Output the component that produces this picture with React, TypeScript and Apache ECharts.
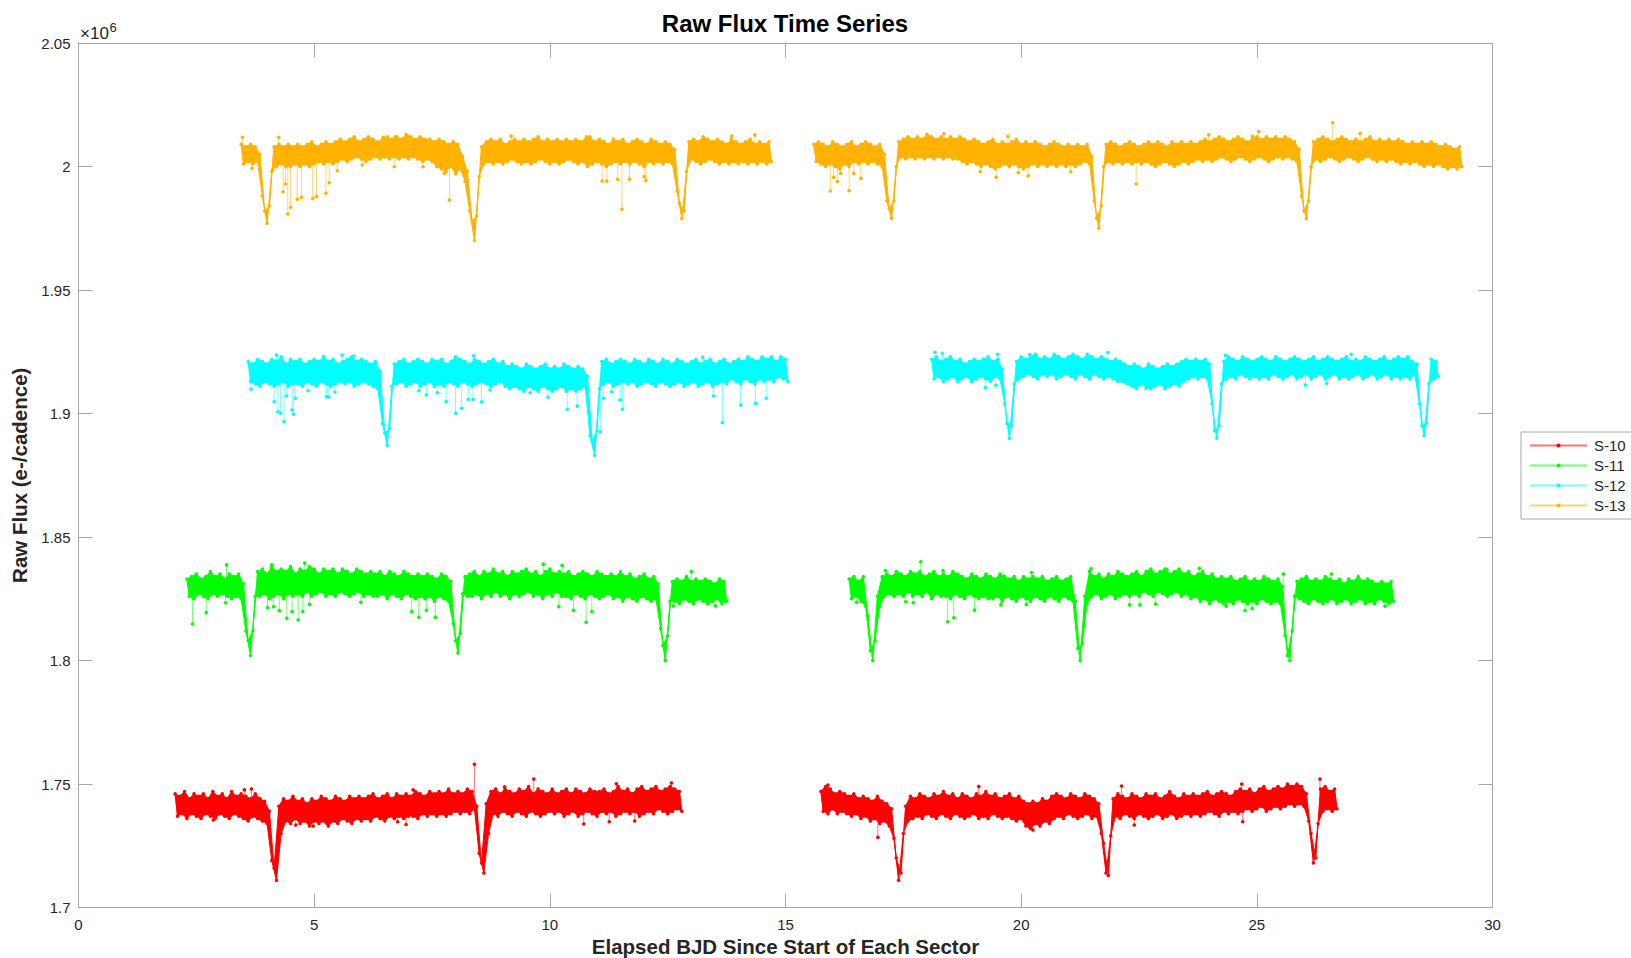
import React, { useEffect, useRef } from "react";
import * as echarts from "echarts";

// ---------------- DATA (flux in thousands of e-/cadence; time in days) ----------------
const STEP = 0.1; // cadence bin width (days); each bin gives an upper and a lower reading
const X_TICKS = [0, 5, 10, 15, 20, 25, 30];
const Y_TICKS = [1700, 1750, 1800, 1850, 1900, 1950, 2000, 2050];
const SERIES_NAMES = ["S-10", "S-11", "S-12", "S-13"];

// ---- S-10 ----
const S10_A_T0 = 2.05;
const S10_A_HI = [
  1746,1745,1747,1744,1746,1745,1746,1744,1747,1745,
  1746,1744,1747,1745,1746,1745,1744,1746,1744,1743,
  1739,1716,1741,1744,1743,1745,1743,1744,1742,1744,
  1743,1745,1744,1743,1745,1744,1743,1745,1744,1745,
  1744,1745,1746,1744,1745,1746,1744,1746,1745,1746,
  1745,1747,1746,1745,1747,1746,1747,1746,1748,1746,
  1747,1746,1748,1747,1741,1718,1742,1747,1748,1746,
  1748,1747,1746,1748,1747,1749,1746,1748,1747,1746,
  1748,1746,1747,1748,1746,1748,1747,1746,1748,1747,
  1747,1748,1746,1747,1749,1747,1748,1746,1748,1749,
  1747,1748,1749,1747,1748,1749,1748,1747,
];
const S10_A_LO = [
  1737,1738,1736,1738,1737,1736,1738,1737,1736,1738,
  1737,1736,1738,1737,1736,1735,1737,1736,1735,1734,
  1719,1711,1730,1735,1734,1736,1734,1735,1733,1735,
  1734,1735,1733,1735,1734,1736,1735,1734,1736,1735,
  1736,1735,1737,1736,1735,1737,1736,1737,1736,1737,
  1737,1736,1738,1737,1738,1737,1738,1737,1738,1739,
  1738,1739,1738,1740,1722,1714,1730,1738,1737,1739,
  1738,1737,1739,1738,1737,1739,1738,1737,1738,1739,
  1738,1739,1737,1738,1739,1737,1738,1739,1738,1737,
  1739,1738,1739,1737,1738,1739,1738,1739,1737,1738,
  1739,1738,1740,1739,1738,1739,1740,1739,
];
const S10_B_T0 = 15.75;
const S10_B_HI = [
  1747,1749,1748,1746,1747,1746,1745,1746,1744,1745,
  1744,1743,1745,1743,1742,1740,1720,1714,1741,1745,
  1744,1746,1745,1744,1746,1745,1747,1745,1746,1744,
  1746,1745,1744,1746,1745,1747,1745,1746,1744,1745,
  1746,1744,1745,1743,1742,1743,1742,1744,1743,1745,
  1746,1745,1744,1746,1745,1744,1746,1745,1744,1742,
  1726,1713,1744,1746,1745,1744,1746,1745,1744,1746,
  1745,1746,1744,1745,1747,1745,1744,1746,1745,1746,
  1745,1746,1747,1745,1746,1747,1746,1745,1747,1748,
  1747,1748,1746,1748,1749,1747,1748,1749,1748,1750,
  1749,1750,1749,1746,1730,1720,1748,1749,1747,1748,
];
const S10_B_LO = [
  1739,1738,1740,1738,1739,1738,1737,1738,1736,1737,
  1735,1736,1734,1735,1733,1728,1711,1730,1735,1736,
  1737,1736,1738,1737,1736,1738,1737,1736,1738,1737,
  1736,1737,1738,1736,1737,1736,1738,1737,1736,1737,
  1736,1735,1736,1733,1732,1734,1733,1735,1734,1736,
  1737,1736,1738,1737,1736,1737,1738,1736,1737,1730,
  1714,1729,1737,1736,1738,1737,1736,1738,1737,1736,
  1737,1738,1736,1737,1738,1736,1737,1738,1737,1738,
  1737,1738,1739,1738,1737,1739,1738,1739,1738,1739,
  1740,1739,1740,1741,1739,1740,1741,1740,1741,1742,
  1741,1742,1741,1735,1718,1734,1739,1740,1739,1740,
];
// outliers: [time, band level, outlier value]
const S10_OUTLIERS = [
  [2.86, 1740, 1735.4], [3.52, 1744, 1747.6], [3.67, 1742, 1748], [4.61, 1738, 1733.4],
  [4.98, 1738, 1733], [5.27, 1738, 1734], [6.77, 1739, 1734.7], [6.95, 1739, 1733.6],
  [7.1, 1744, 1747.6], [8.4, 1744, 1758], [9.04, 1745, 1748.9], [9.66, 1745, 1752],
  [10.72, 1741, 1733.8], [11.26, 1742, 1734.7], [11.41, 1745, 1750.1], [11.8, 1742, 1735],
  [12.58, 1745, 1750.4], [15.9, 1745, 1749.6], [16.96, 1737, 1728.4], [19.1, 1744, 1749],
  [20.25, 1736, 1731.4], [22.13, 1744, 1749.2], [22.4, 1738, 1733.4], [24.68, 1746, 1750],
  [24.7, 1740, 1734.7], [26.34, 1746, 1752],
];

// ---- S-11 ----
const S11_A_T0 = 2.3;
const S11_A_HI = [
  1833,1834,1835,1833,1834,1836,1834,1835,1833,1835,
  1834,1835,1831,1808,1812,1836,1837,1835,1838,1836,
  1837,1836,1838,1835,1837,1836,1838,1837,1835,1837,
  1836,1837,1835,1837,1836,1835,1837,1836,1835,1836,
  1835,1836,1834,1836,1835,1834,1836,1835,1834,1835,
  1834,1835,1834,1833,1835,1834,1832,1808,1811,1834,
  1835,1836,1834,1836,1835,1837,1835,1836,1834,1836,
  1835,1836,1837,1835,1836,1834,1836,1837,1835,1836,
  1835,1836,1834,1835,1836,1835,1834,1836,1835,1834,
  1835,1834,1836,1834,1835,1833,1834,1835,1833,1834,
  1831,1806,1810,1832,1833,1832,1834,1832,1833,1832,
  1833,1832,1831,1833,1832,
];
const S11_A_LO = [
  1826,1825,1827,1826,1825,1827,1826,1827,1826,1825,
  1826,1825,1812,1802,1826,1826,1827,1825,1826,1827,
  1825,1827,1826,1827,1826,1828,1826,1827,1828,1826,
  1827,1826,1828,1827,1826,1827,1828,1826,1827,1826,
  1826,1827,1825,1827,1826,1825,1827,1826,1825,1826,
  1825,1826,1824,1826,1825,1824,1815,1803,1827,1826,
  1826,1827,1825,1827,1826,1828,1826,1827,1825,1827,
  1826,1827,1828,1826,1827,1825,1827,1826,1828,1826,
  1826,1825,1827,1826,1825,1827,1826,1825,1826,1827,
  1825,1826,1824,1826,1825,1824,1826,1825,1824,1825,
  1813,1800,1824,1824,1823,1825,1824,1823,1825,1824,
  1823,1824,1825,1823,1824,
];
const S11_B_T0 = 16.35;
const S11_B_HI = [
  1833,1834,1832,1834,1818,1800,1826,1834,1835,1834,
  1836,1835,1834,1836,1835,1836,1834,1835,1836,1834,
  1835,1834,1836,1835,1834,1833,1835,1834,1833,1835,
  1834,1833,1835,1834,1833,1834,1832,1834,1833,1834,
  1833,1834,1832,1833,1834,1832,1833,1834,1824,1800,
  1826,1836,1834,1835,1833,1835,1834,1836,1835,1834,
  1835,1836,1834,1836,1837,1835,1836,1837,1835,1836,
  1837,1835,1836,1834,1835,1836,1834,1835,1833,1834,
  1833,1834,1832,1833,1834,1832,1833,1832,1834,1833,
  1832,1833,1830,1802,1812,1832,1833,1834,1832,1833,
  1832,1834,1833,1832,1833,1831,1833,1832,1834,1832,
  1833,1832,1831,1832,1831,1832,
];
const S11_B_LO = [
  1825,1826,1824,1822,1804,1808,1822,1826,1827,1826,
  1827,1826,1828,1826,1827,1826,1828,1825,1827,1826,
  1826,1825,1827,1826,1825,1827,1826,1825,1826,1825,
  1825,1826,1824,1826,1825,1824,1826,1825,1824,1826,
  1825,1824,1826,1825,1824,1826,1825,1824,1805,1807,
  1823,1826,1827,1825,1826,1827,1825,1826,1827,1826,
  1827,1826,1828,1827,1826,1828,1827,1826,1827,1828,
  1826,1827,1825,1826,1824,1825,1823,1825,1824,1823,
  1824,1823,1825,1824,1823,1824,1823,1825,1824,1823,
  1824,1823,1810,1800,1826,1825,1824,1823,1825,1824,
  1823,1824,1825,1823,1824,1825,1823,1824,1825,1823,
  1824,1823,1825,1824,1823,1824,
];
const S11_OUTLIERS = [
  [2.42, 1829, 1814.8], [2.71, 1829, 1819.4], [3.12, 1829, 1823.4], [3.14, 1831, 1838.7],
  [4.01, 1830, 1821.4], [4.1, 1832, 1838.7], [4.14, 1830, 1821.8], [4.26, 1830, 1820.2],
  [4.42, 1830, 1817.1], [4.53, 1830, 1819.8], [4.66, 1830, 1816.4], [4.76, 1830, 1819.8],
  [4.8, 1832, 1839.4], [4.9, 1830, 1822.7], [5.99, 1830, 1823.6], [7.07, 1829, 1819.8],
  [7.22, 1829, 1817.5], [7.38, 1829, 1820.3], [7.57, 1829, 1817.5], [9.86, 1832, 1839],
  [10.19, 1830, 1821.8], [10.26, 1832, 1838.5], [10.5, 1830, 1820.3], [10.77, 1830, 1815.5],
  [10.89, 1830, 1819.8], [12.62, 1828, 1822.1], [13.0, 1830, 1836], [13.51, 1828, 1822.1],
  [16.51, 1829, 1823.6], [17.12, 1831, 1836.4], [17.55, 1829, 1823.8], [17.71, 1829, 1823.4],
  [17.87, 1832, 1840], [18.34, 1831, 1836.4], [18.44, 1829, 1815.7], [18.57, 1829, 1817.3],
  [19.01, 1829, 1820.4], [19.57, 1829, 1822.5], [20.11, 1829, 1822.7], [20.22, 1831, 1835.6],
  [21.48, 1831, 1837.1], [22.3, 1829, 1822.5], [22.52, 1829, 1822.5], [22.85, 1829, 1822.9],
  [23.09, 1832, 1836.7], [23.78, 1832, 1837.3], [24.35, 1828, 1822], [24.75, 1828, 1820.2],
  [24.9, 1828, 1821.1], [25.56, 1830, 1835], [26.58, 1830, 1835], [27.72, 1828, 1822],
];

// ---- S-12 ----
const S12_A_T0 = 3.6;
const S12_A_HI = [
  1921,1920,1922,1921,1920,1922,1921,1923,1920,1922,
  1921,1922,1920,1921,1922,1921,1923,1921,1922,1920,
  1921,1922,1923,1921,1922,1921,1920,1921,1917,1892,
  1894,1920,1921,1922,1920,1921,1922,1921,1920,1922,
  1921,1922,1920,1921,1923,1922,1921,1920,1922,1921,
  1920,1921,1922,1920,1921,1919,1920,1919,1918,1920,
  1919,1918,1919,1920,1918,1919,1918,1920,1919,1918,
  1919,1918,1915,1889,1893,1921,1922,1920,1921,1922,
  1921,1920,1922,1921,1920,1922,1921,1920,1922,1921,
  1920,1922,1921,1920,1921,1922,1920,1921,1922,1920,
  1921,1922,1920,1921,1922,1921,1923,1922,1921,1923,
  1922,1923,1921,1923,1922,
];
const S12_A_LO = [
  1913,1912,1911,1913,1912,1911,1912,1913,1911,1912,
  1912,1911,1913,1912,1911,1913,1912,1911,1912,1913,
  1912,1913,1911,1912,1913,1912,1911,1910,1896,1887,
  1911,1912,1913,1911,1912,1913,1911,1912,1913,1911,
  1912,1911,1913,1912,1911,1913,1912,1911,1912,1913,
  1912,1911,1912,1913,1911,1910,1911,1910,1909,1911,
  1910,1909,1911,1910,1909,1910,1911,1909,1910,1909,
  1910,1911,1891,1883,1910,1912,1913,1911,1912,1913,
  1912,1913,1911,1912,1913,1912,1911,1913,1912,1911,
  1912,1913,1911,1912,1913,1911,1912,1913,1911,1912,
  1913,1912,1914,1913,1912,1914,1913,1912,1914,1913,
  1914,1913,1915,1914,1913,
];
const S12_B_T0 = 18.1;
const S12_B_HI = [
  1922,1923,1921,1922,1923,1921,1922,1920,1921,1922,
  1921,1922,1923,1921,1922,1918,1896,1895,1921,1923,
  1922,1923,1924,1922,1923,1922,1924,1923,1922,1923,
  1924,1923,1922,1924,1923,1922,1923,1922,1921,1922,
  1921,1920,1919,1920,1919,1918,1920,1919,1918,1919,
  1920,1919,1920,1921,1922,1921,1922,1921,1922,1920,
  1893,1895,1921,1923,1922,1921,1923,1922,1921,1922,
  1923,1922,1921,1923,1922,1921,1922,1923,1922,1921,
  1922,1923,1921,1922,1923,1922,1921,1922,1923,1921,
  1922,1921,1923,1922,1921,1922,1923,1921,1922,1923,
  1922,1923,1921,1920,1895,1896,1922,1921,
];
const S12_B_LO = [
  1914,1915,1913,1914,1915,1913,1914,1915,1913,1914,
  1915,1914,1913,1915,1914,1904,1890,1912,1914,1915,
  1916,1915,1914,1916,1915,1916,1914,1915,1916,1915,
  1914,1916,1915,1914,1916,1915,1914,1915,1914,1913,
  1913,1912,1911,1910,1912,1911,1910,1911,1912,1910,
  1911,1912,1911,1913,1914,1915,1914,1915,1914,1904,
  1890,1912,1914,1915,1914,1916,1915,1914,1915,1914,
  1915,1914,1916,1915,1914,1915,1916,1914,1915,1916,
  1914,1915,1916,1914,1915,1916,1914,1915,1914,1915,
  1916,1914,1915,1916,1914,1915,1916,1914,1915,1914,
  1915,1914,1916,1904,1891,1912,1914,1915,
];
const S12_OUTLIERS = [
  [3.66, 1916, 1909.8], [4.15, 1916, 1904.8], [4.2, 1918, 1923.7], [4.23, 1916, 1900.7],
  [4.29, 1916, 1900.1], [4.36, 1916, 1896.7], [4.41, 1916, 1907.1], [4.53, 1916, 1901.4],
  [4.56, 1916, 1899.7], [4.6, 1916, 1906.2], [4.87, 1916, 1909.2], [5.26, 1916, 1906.8],
  [5.31, 1916, 1906.7], [5.44, 1916, 1908.7], [5.59, 1918, 1923.7], [5.84, 1918, 1923.3],
  [7.22, 1916, 1909.2], [7.38, 1916, 1907.5], [7.61, 1916, 1908.4], [7.8, 1916, 1904.8],
  [8.0, 1916, 1900.1], [8.13, 1916, 1902.1], [8.27, 1916, 1905.7], [8.37, 1916, 1905.7],
  [8.38, 1918, 1923.4], [8.55, 1916, 1904.7], [8.73, 1916, 1909.5], [9.58, 1914, 1908.4],
  [9.96, 1914, 1906.6], [10.37, 1914, 1901.7], [10.58, 1914, 1903], [11.07, 1914, 1892.6],
  [11.14, 1916, 1906.2], [11.31, 1916, 1908.8], [11.49, 1916, 1905.5], [11.54, 1916, 1901.7],
  [13.24, 1918, 1922.8], [13.47, 1916, 1907.1], [13.66, 1916, 1896.3], [14.05, 1917, 1903.4],
  [14.36, 1917, 1904.1], [14.59, 1917, 1906.2], [18.17, 1919, 1924.8], [18.33, 1919, 1924.4],
  [19.24, 1917, 1910.5], [19.46, 1917, 1911.4], [19.5, 1919, 1924], [20.18, 1919, 1923.9],
  [21.84, 1919, 1924.7], [22.43, 1915, 1910.5], [22.65, 1915, 1910.2], [23.16, 1915, 1911.1],
  [24.33, 1919, 1923.6], [26.03, 1918, 1911.5], [26.48, 1918, 1912.2], [27.0, 1919, 1924],
];

// ---- S-13 ----
const S13_A_T0 = 3.45;
const S13_A_HI = [
  2009,2008,2009,2008,2005,1982,1984,2008,2009,2008,
  2009,2008,2009,2008,2009,2010,2008,2009,2010,2009,
  2010,2011,2010,2011,2012,2010,2011,2012,2011,2010,
  2011,2012,2011,2012,2011,2013,2012,2011,2012,2011,
  2011,2010,2011,2010,2009,2010,2009,2004,1998,1978,
  1980,2008,2010,2011,2010,2011,2009,2010,2011,2010,
  2011,2010,2011,2012,2010,2011,2010,2011,2010,2011,
  2010,2011,2010,2011,2012,2010,2011,2010,2009,2011,
  2010,2011,2009,2010,2011,2010,2009,2011,2010,2009,
  2010,2009,2007,1985,1982,2010,2011,2010,2012,2011,
  2010,2011,2010,2009,2011,2010,2009,2010,2011,2009,
  2010,2009,2010,
];
const S13_A_LO = [
  2001,2002,2001,2002,1988,1977,1998,2000,2001,2000,
  2000,2001,2000,2001,2000,2001,2002,2001,2002,2001,
  2002,2003,2002,2003,2004,2003,2002,2003,2004,2003,
  2004,2003,2004,2003,2004,2003,2004,2003,2002,2003,
  2002,2000,1999,1998,2000,1997,1999,1994,1982,1970,
  1996,2001,2002,2001,2002,2001,2002,2003,2002,2001,
  2002,2001,2002,2003,2002,2001,2002,2001,2002,2003,
  2002,2001,2002,2000,2001,2002,2001,2000,2001,2002,
  2001,2002,2001,2002,2001,2000,2002,2001,2002,2001,
  2002,2001,1990,1979,1998,2003,2002,2001,2002,2003,
  2002,2001,2002,2001,2002,2001,2002,2001,2002,2001,
  2002,2001,2002,
];
const S13_B_T0 = 15.6;
const S13_B_HI = [
  2009,2010,2009,2008,2010,2009,2008,2009,2010,2008,
  2009,2010,2009,2008,2009,2005,1983,1986,2010,2011,
  2012,2011,2012,2011,2013,2012,2011,2012,2011,2012,
  2011,2012,2011,2010,2011,2010,2009,2010,2011,2009,
  2010,2009,2010,2011,2009,2010,2009,2010,2009,2008,
  2009,2010,2009,2008,2009,2008,2009,2008,2009,2004,
  1979,1984,2009,2010,2009,2008,2009,2010,2009,2008,
  2009,2010,2009,2010,2009,2008,2010,2009,2010,2009,
  2010,2009,2010,2011,2010,2011,2012,2011,2010,2011,
  2012,2011,2010,2011,2012,2011,2012,2011,2012,2011,
  2012,2011,2010,2007,1982,1986,2010,2011,2012,2011,
  2010,2011,2012,2011,2010,2011,2010,2011,2012,2010,
  2011,2010,2011,2010,2011,2010,2009,2010,2009,2010,
  2009,2010,2009,2008,2009,2008,2007,2008,
];
const S13_B_LO = [
  2002,2001,2000,2001,2000,1999,2001,2000,2002,2001,
  2002,2001,2002,2001,2000,1986,1979,2000,2004,2003,
  2004,2003,2004,2003,2004,2003,2004,2003,2004,2003,
  2003,2002,2001,2002,2001,2000,2001,2000,1999,2000,
  2001,2000,2001,2000,1999,2000,2001,2000,2001,2000,
  2001,2000,2001,2000,2001,2000,2001,2002,2001,1986,
  1975,2000,2002,2001,2002,2001,2002,2001,2002,2001,
  2002,2001,2000,2001,2002,2001,2000,2001,2002,2001,
  2002,2003,2002,2003,2002,2003,2004,2003,2002,2003,
  2004,2003,2002,2003,2004,2003,2002,2003,2004,2003,
  2004,2003,2002,1988,1979,2000,2003,2002,2003,2004,
  2003,2002,2003,2004,2003,2002,2003,2004,2003,2002,
  2003,2002,2003,2002,2001,2002,2001,2002,2001,2000,
  2001,2000,2001,2000,1999,2000,1999,2000,
];
const S13_OUTLIERS = [
  [3.48, 2006, 2011.8], [3.68, 2004, 1999.3], [4.12, 2004, 1998.6], [4.25, 2006, 2011.8],
  [4.34, 2004, 1989.8], [4.39, 2004, 1992.9], [4.44, 2004, 1980.8], [4.5, 2004, 1983.5],
  [4.64, 2004, 1986.7], [4.73, 2004, 1987.5], [4.97, 2004, 1987], [5.05, 2004, 1987.8],
  [5.25, 2004, 1989.2], [5.32, 2004, 1993.4], [5.49, 2005, 1998.3], [6.02, 2006, 2000.6],
  [6.47, 2008, 2011.8], [6.7, 2006, 1999.9], [6.72, 2008, 2012], [7.31, 2006, 1999.9],
  [7.76, 2004, 1997.2], [7.87, 2004, 1986.4], [9.18, 2007, 2012.3], [10.78, 2007, 2012],
  [11.11, 2005, 1994.1], [11.21, 2005, 1994.1], [11.44, 2005, 1994.8], [11.53, 2005, 1982.7],
  [11.69, 2005, 1994.8], [12.0, 2005, 1995.9], [12.04, 2005, 1994.3], [13.86, 2007, 2012.3],
  [14.35, 2007, 2012.8], [15.95, 2004, 1990.1], [16.02, 2004, 1995.6], [16.1, 2004, 1993.9],
  [16.17, 2004, 1997.2], [16.35, 2004, 1990.2], [16.45, 2004, 1997.2], [16.6, 2004, 1995.2],
  [18.36, 2008, 2013.2], [19.13, 2004, 1997.9], [19.47, 2004, 1995.6], [19.72, 2007, 2012.2],
  [19.94, 2004, 1997.5], [20.15, 2004, 1996.2], [21.05, 2004, 1997.9], [22.44, 2004, 1992.9],
  [23.98, 2008, 2012.8], [24.91, 2008, 2012.2], [25.04, 2008, 2014.1], [26.61, 2008, 2017.7],
  [27.19, 2008, 2013.4],
];

// ---------------- STYLE ----------------
const FONT = "'Liberation Sans', Arial, Helvetica, sans-serif";
const AXIS_COLOR = "#a8a8a8";
const TEXT_COLOR = "#262626";
const COLORS = ["#ff0000", "#00ff00", "#00ffff", "#ffb300"];

type Seg = { t0: number; hi: number[]; lo: number[] };

const SERIES_DEF: { segs: Seg[]; outliers: number[][] }[] = [
  {
    segs: [
      { t0: S10_A_T0, hi: S10_A_HI, lo: S10_A_LO },
      { t0: S10_B_T0, hi: S10_B_HI, lo: S10_B_LO },
    ],
    outliers: S10_OUTLIERS,
  },
  {
    segs: [
      { t0: S11_A_T0, hi: S11_A_HI, lo: S11_A_LO },
      { t0: S11_B_T0, hi: S11_B_HI, lo: S11_B_LO },
    ],
    outliers: S11_OUTLIERS,
  },
  {
    segs: [
      { t0: S12_A_T0, hi: S12_A_HI, lo: S12_A_LO },
      { t0: S12_B_T0, hi: S12_B_HI, lo: S12_B_LO },
    ],
    outliers: S12_OUTLIERS,
  },
  {
    segs: [
      { t0: S13_A_T0, hi: S13_A_HI, lo: S13_A_LO },
      { t0: S13_B_T0, hi: S13_B_HI, lo: S13_B_LO },
    ],
    outliers: S13_OUTLIERS,
  },
];

function zigzag(seg: Seg): number[][] {
  const out: number[][] = [];
  const n = Math.min(seg.hi.length, seg.lo.length);
  for (let i = 0; i < n; i++) {
    const t = seg.t0 + i * STEP;
    out.push([t, seg.hi[i]]);
    out.push([t + STEP / 2, seg.lo[i]]);
  }
  return out;
}

function buildSeries() {
  const lines: any[] = [];
  const others: any[] = [];
  SERIES_DEF.forEach((def, k) => {
    const name = SERIES_NAMES[k];
    const color = COLORS[k];
    def.segs.forEach((seg) => {
      lines.push({
        type: "line",
        name,
        data: zigzag(seg),
        symbol: "circle",
        symbolSize: 3.5,
        showSymbol: true,
        showAllSymbol: true,
        silent: true,
        z: 4,
        itemStyle: { color },
        lineStyle: { color, width: 1, opacity: 0.55 },
        emphasis: { disabled: true },
        animation: false,
      });
    });
    const segs = def.segs;
    others.push({
      type: "custom",
      id: "band" + k,
      silent: true,
      z: 3,
      clip: true,
      data: segs.map((s) => [s.t0, s.hi[0]]),
      encode: { x: 0, y: 1 },
      renderItem: (params: any, api: any) => {
        const sg = segs[params.dataIndex];
        const n = Math.min(sg.hi.length, sg.lo.length);
        const pts: number[][] = [];
        for (let i = 0; i < n; i++) pts.push(api.coord([sg.t0 + i * STEP, sg.hi[i]]));
        for (let i = n - 1; i >= 0; i--) pts.push(api.coord([sg.t0 + i * STEP + STEP / 2, sg.lo[i]]));
        return {
          type: "polygon",
          shape: { points: pts },
          style: { fill: color, stroke: color, lineWidth: 1 },
        };
      },
    });
    others.push({
      type: "custom",
      id: "outliers" + k,
      silent: true,
      z: 4,
      clip: true,
      data: def.outliers,
      encode: { x: 0, y: [1, 2] },
      renderItem: (_params: any, api: any) => {
        const t = api.value(0);
        const p0 = api.coord([t, api.value(1)]);
        const p1 = api.coord([t, api.value(2)]);
        return {
          type: "group",
          children: [
            {
              type: "line",
              shape: { x1: p0[0], y1: p0[1], x2: p1[0], y2: p1[1] },
              style: { stroke: color, lineWidth: 1, opacity: 0.55 },
            },
            { type: "circle", shape: { cx: p1[0], cy: p1[1], r: 1.8 }, style: { fill: color } },
          ],
        };
      },
    });
  });
  return [...lines, ...others];
}

function axisBase(extra: any) {
  return {
    type: "value",
    axisLine: { show: true, onZero: false, lineStyle: { color: AXIS_COLOR, width: 1 } },
    axisTick: { show: true, inside: true, length: 14, lineStyle: { color: AXIS_COLOR } },
    splitLine: { show: false },
    ...extra,
  };
}

export default function App() {
  const ref = useRef<HTMLDivElement>(null);
  useEffect(() => {
    if (!ref.current) return;
    const chart = echarts.init(ref.current, null, { renderer: "svg" });
    const option: any = {
      animation: false,
      backgroundColor: "#ffffff",
      title: {
        text: "Raw Flux Time Series",
        left: 785,
        top: 11,
        padding: 0,
        textAlign: "center",
        textStyle: { fontFamily: FONT, fontSize: 24, fontWeight: "bold", color: "#000000" },
      },
      grid: { left: 78.5, top: 43, width: 1414, height: 864.5, containLabel: false, outerBoundsMode: "none" },
      legend: {
        data: SERIES_NAMES,
        orient: "vertical",
        left: 1521,
        top: 432,
        padding: [6, 6, 6, 8],
        itemWidth: 57,
        itemHeight: 5,
        itemGap: 5,
        backgroundColor: "#ffffff",
        borderColor: AXIS_COLOR,
        borderWidth: 1,
        borderRadius: 0,
        selectedMode: false,
        textStyle: { fontFamily: FONT, fontSize: 15, color: TEXT_COLOR, padding: [0, 0, 0, 2] },
      },
      xAxis: [
        axisBase({
          min: X_TICKS[0],
          max: X_TICKS[X_TICKS.length - 1],
          interval: X_TICKS[1] - X_TICKS[0],
          position: "bottom",
          name: "Elapsed BJD Since Start of Each Sector",
          nameLocation: "middle",
          nameGap: 25,
          nameTextStyle: { fontFamily: FONT, fontSize: 20.5, fontWeight: "bold", color: TEXT_COLOR },
          axisLabel: { margin: 9, fontFamily: FONT, fontSize: 15, color: TEXT_COLOR },
        }),
        axisBase({
          min: X_TICKS[0],
          max: X_TICKS[X_TICKS.length - 1],
          interval: X_TICKS[1] - X_TICKS[0],
          position: "top",
          axisLabel: { show: false },
        }),
      ],
      yAxis: [
        axisBase({
          min: Y_TICKS[0],
          max: Y_TICKS[Y_TICKS.length - 1],
          interval: Y_TICKS[1] - Y_TICKS[0],
          position: "left",
          name: "Raw Flux (e-/cadence)",
          nameLocation: "middle",
          nameGap: 40,
          nameRotate: 90,
          nameTextStyle: { fontFamily: FONT, fontSize: 20.5, fontWeight: "bold", color: TEXT_COLOR },
          axisLabel: {
            margin: 8,
            fontFamily: FONT,
            fontSize: 15,
            color: TEXT_COLOR,
            formatter: (v: number) => String(Math.round(v) / 1000),
          },
        }),
        axisBase({
          min: Y_TICKS[0],
          max: Y_TICKS[Y_TICKS.length - 1],
          interval: Y_TICKS[1] - Y_TICKS[0],
          position: "right",
          axisLabel: { show: false },
        }),
      ],
      graphic: [
        {
          type: "text",
          x: 80,
          y: 33.5,
          silent: true,
          style: { text: "×10", fontFamily: FONT, fontSize: 17, fill: TEXT_COLOR, align: "left", verticalAlign: "middle" },
        },
        {
          type: "text",
          x: 109.5,
          y: 27,
          silent: true,
          style: { text: "6", fontFamily: FONT, fontSize: 13, fill: TEXT_COLOR, align: "left", verticalAlign: "middle" },
        },
      ],
      series: buildSeries(),
    };
    chart.setOption(option);
    return () => chart.dispose();
  }, []);
  return (
    <div
      ref={ref}
      style={{ position: "fixed", left: 0, top: 0, width: 1631, height: 958, background: "#ffffff" }}
    />
  );
}
